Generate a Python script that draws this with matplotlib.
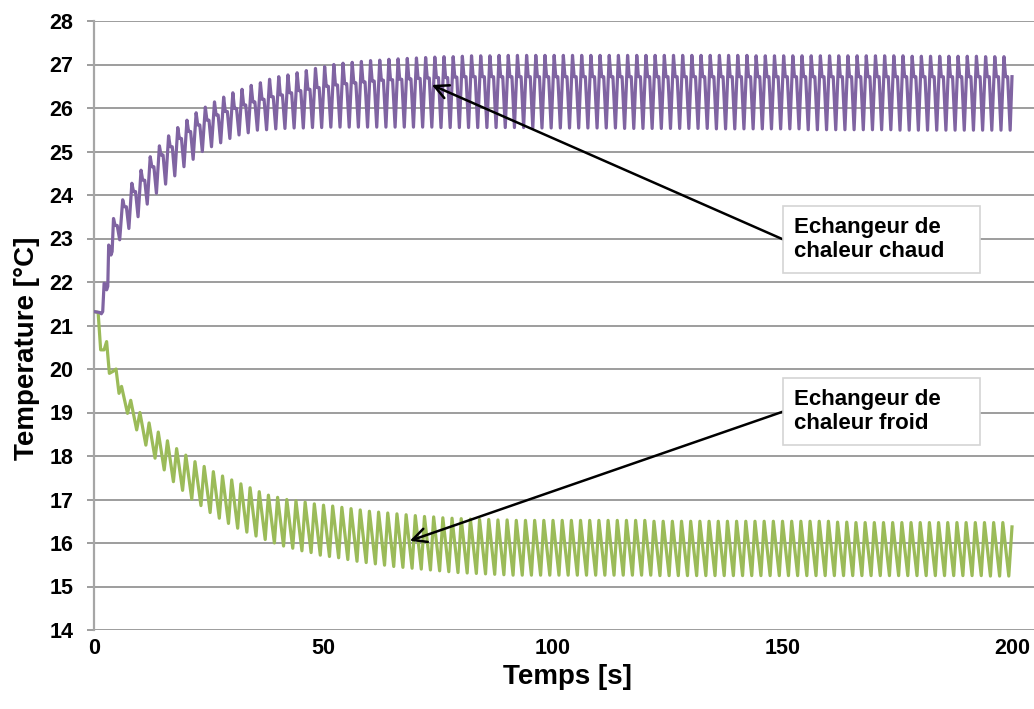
import numpy as np
import matplotlib
matplotlib.use("Agg")
import matplotlib.pyplot as plt
from matplotlib.patches import Rectangle

plt.rcParams['font.family'] = ['Liberation Sans', 'DejaVu Sans']
plt.rcParams['font.weight'] = 'bold'

# ---- data ----
# hot exchanger (purple): start-up steps, then one cycle every 2 s
hot_start_t = [0.0, 1.2, 1.6, 1.9, 2.2, 2.5, 2.75, 3.0, 3.2, 3.45, 3.7, 3.95]
hot_start_T = [21.32, 21.30, 21.27, 21.32, 21.97, 21.95, 21.82, 21.90, 22.85, 22.80, 22.62, 22.70]
hot_cycles = np.arange(2, 100)   # cycle k peaks at ~2k s
hot_peak = [
    23.46, 23.89, 24.27, 24.57, 24.88, 25.13, 25.36, 25.55, 25.72, 25.89,
    26.02, 26.14, 26.25, 26.35, 26.43, 26.52, 26.58, 26.66, 26.72, 26.76,
    26.81, 26.86, 26.91, 26.95, 27.00, 27.03, 27.05, 27.07, 27.09, 27.10,
    27.12, 27.13, 27.14, 27.15, 27.16, 27.17, 27.18, 27.18, 27.19, 27.20,
    27.20, 27.20, 27.21, 27.21, 27.21, 27.21, 27.21, 27.21, 27.21, 27.21,
    27.21, 27.21, 27.21, 27.21, 27.21, 27.21, 27.21, 27.21, 27.21, 27.21,
    27.21, 27.21, 27.21, 27.21, 27.21, 27.21, 27.21, 27.21, 27.21, 27.21,
    27.20, 27.20, 27.20, 27.20, 27.20, 27.20, 27.20, 27.20, 27.20, 27.20,
    27.20, 27.20, 27.20, 27.20, 27.20, 27.20, 27.20, 27.19, 27.19, 27.19,
    27.19, 27.19, 27.19, 27.19, 27.19, 27.18, 27.18, 27.18,
]
hot_shoulder = [
    23.30, 23.73, 24.08, 24.34, 24.65, 24.92, 25.11, 25.30, 25.46, 25.61,
    25.72, 25.84, 25.92, 25.99, 26.07, 26.14, 26.20, 26.26, 26.30, 26.35,
    26.40, 26.43, 26.47, 26.50, 26.53, 26.56, 26.58, 26.60, 26.62, 26.64,
    26.65, 26.66, 26.67, 26.68, 26.69, 26.70, 26.70, 26.71, 26.72, 26.72,
    26.72, 26.72, 26.72, 26.72, 26.72, 26.72, 26.72, 26.72, 26.72, 26.72,
    26.72, 26.72, 26.72, 26.72, 26.72, 26.72, 26.72, 26.72, 26.72, 26.72,
    26.72, 26.72, 26.72, 26.72, 26.72, 26.72, 26.72, 26.72, 26.72, 26.72,
    26.72, 26.72, 26.72, 26.72, 26.72, 26.72, 26.72, 26.72, 26.72, 26.72,
    26.72, 26.72, 26.72, 26.72, 26.72, 26.72, 26.72, 26.72, 26.72, 26.72,
    26.72, 26.72, 26.72, 26.72, 26.72, 26.72, 26.72, 26.72,
]
hot_trough = [
    22.97, 23.23, 23.50, 23.79, 24.04, 24.25, 24.44, 24.65, 24.82, 25.00,
    25.11, 25.20, 25.30, 25.38, 25.43, 25.49, 25.50, 25.52, 25.53, 25.54,
    25.54, 25.55, 25.55, 25.56, 25.56, 25.56, 25.56, 25.56, 25.56, 25.56,
    25.56, 25.56, 25.56, 25.56, 25.56, 25.55, 25.55, 25.55, 25.55, 25.55,
    25.55, 25.55, 25.55, 25.55, 25.55, 25.54, 25.54, 25.54, 25.54, 25.54,
    25.54, 25.54, 25.54, 25.54, 25.54, 25.53, 25.53, 25.53, 25.53, 25.53,
    25.53, 25.53, 25.53, 25.53, 25.53, 25.52, 25.52, 25.52, 25.52, 25.52,
    25.52, 25.52, 25.52, 25.52, 25.52, 25.50, 25.50, 25.50, 25.50, 25.50,
    25.50, 25.50, 25.50, 25.50, 25.50, 25.49, 25.49, 25.49, 25.49, 25.49,
    25.49, 25.49, 25.49, 25.49, 25.49, 25.49, 25.49, 25.49,
]
hot_end_t = [200.0]
hot_end_T = [26.72]

# cold exchanger (green)
cold_start_t = [0.0, 0.9, 1.45, 2.2, 2.75, 3.35, 4.2, 4.8, 5.45]
cold_start_T = [21.32, 21.30, 20.44, 20.44, 20.63, 19.90, 19.95, 20.00, 19.44]
cold_cycles = np.arange(3, 100)
cold_peak = [
    19.60, 19.28, 19.00, 18.76, 18.55, 18.35, 18.17, 18.02, 17.87, 17.76,
    17.64, 17.54, 17.45, 17.36, 17.27, 17.18, 17.10, 17.05, 17.00, 16.97,
    16.94, 16.90, 16.87, 16.85, 16.82, 16.79, 16.76, 16.73, 16.71, 16.69,
    16.67, 16.65, 16.63, 16.61, 16.60, 16.58, 16.57, 16.56, 16.55, 16.54,
    16.54, 16.53, 16.53, 16.52, 16.52, 16.52, 16.52, 16.52, 16.52, 16.52,
    16.52, 16.52, 16.52, 16.52, 16.52, 16.52, 16.52, 16.52, 16.50, 16.50,
    16.50, 16.50, 16.50, 16.50, 16.50, 16.50, 16.50, 16.50, 16.50, 16.50,
    16.50, 16.50, 16.50, 16.50, 16.50, 16.50, 16.50, 16.50, 16.48, 16.48,
    16.47, 16.47, 16.47, 16.47, 16.47, 16.47, 16.47, 16.47, 16.47, 16.47,
    16.47, 16.47, 16.47, 16.47, 16.47, 16.47, 16.47,
]
cold_trough = [
    18.98, 18.60, 18.25, 17.95, 17.68, 17.41, 17.21, 17.01, 16.86, 16.70,
    16.57, 16.45, 16.34, 16.25, 16.16, 16.08, 16.00, 15.93, 15.88, 15.82,
    15.78, 15.72, 15.69, 15.66, 15.62, 15.58, 15.55, 15.52, 15.49, 15.46,
    15.44, 15.42, 15.40, 15.38, 15.36, 15.34, 15.32, 15.31, 15.30, 15.29,
    15.28, 15.27, 15.26, 15.26, 15.26, 15.26, 15.26, 15.26, 15.26, 15.26,
    15.26, 15.26, 15.26, 15.26, 15.26, 15.26, 15.26, 15.26, 15.25, 15.25,
    15.25, 15.25, 15.25, 15.25, 15.25, 15.25, 15.25, 15.25, 15.25, 15.25,
    15.25, 15.25, 15.25, 15.25, 15.25, 15.25, 15.25, 15.25, 15.25, 15.25,
    15.25, 15.25, 15.25, 15.25, 15.25, 15.25, 15.25, 15.25, 15.25, 15.25,
    15.25, 15.25, 15.25, 15.25, 15.24, 15.24, 15.24,
]
cold_end_t = [200.0]
cold_end_T = [16.37]

y_ticks = list(range(14, 29))
x_ticks = [0, 50, 100, 150, 200]

# ---- assemble the wave from the per-cycle readings ----
hot_t, hot_T = list(hot_start_t), list(hot_start_T)
for k, pk, sh, tr in zip(hot_cycles, hot_peak, hot_shoulder, hot_trough):
    p = 2 * k + 0.25
    hot_t += [p, p + 0.35, p + 0.8, p + 1.35]
    hot_T += [pk, sh, sh, tr]
hot_t += hot_end_t
hot_T += hot_end_T

cold_t, cold_T = list(cold_start_t), list(cold_start_T)
for k, pk, tr in zip(cold_cycles, cold_peak, cold_trough):
    p = 2 * k
    cold_t += [p, p + 1.3]
    cold_T += [pk, tr]
cold_t += cold_end_t
cold_T += cold_end_T

# ---- figure ----
fig = plt.figure(figsize=(10.34, 7.09), dpi=100)
ax = fig.add_axes([94 / 1034, 1 - 630 / 709, 940 / 1034, 609 / 709])

ax.plot(cold_t, cold_T, color='#9BBB59', lw=2.3, solid_joinstyle='round', zorder=3)
ax.plot(hot_t, hot_T, color='#8064A2', lw=2.3, solid_joinstyle='round', zorder=3)

ax.set_xlim(0, 940 / 4.59)
ax.set_ylim(14, 28)
ax.set_yticks(y_ticks)
ax.set_xticks(x_ticks)
ax.grid(axis='y', color='#8C8C8C', lw=1.2)
ax.set_axisbelow(True)
for s in ['top', 'right', 'bottom']:
    ax.spines[s].set_visible(False)
ax.spines['left'].set_color('#A6A6A6')
ax.spines['left'].set_linewidth(1.6)
ax.tick_params(axis='y', length=5, width=1.2, color='#8C8C8C', pad=10, labelsize=15.5)
ax.tick_params(axis='x', length=0, pad=6, labelsize=15.5)
for lab in ax.get_xticklabels() + ax.get_yticklabels():
    lab.set_fontweight('bold')

fig.text(27 / 1034, 1 - 348 / 709, 'Temperature [°C]', rotation=90,
         ha='center', va='center', fontsize=20, fontweight='bold')
fig.text(567 / 1034, 1 - 677 / 709, 'Temps [s]', ha='center', va='center',
         fontsize=20, fontweight='bold')

# annotation boxes + arrows
ax.annotate('', xy=(73.6, 26.53), xytext=(150.1, 22.98),
            arrowprops=dict(arrowstyle='->,head_length=0.5,head_width=0.25',
                            color='black', lw=1.8, mutation_scale=20,
                            shrinkA=0, shrinkB=0), zorder=5)
ax.annotate('', xy=(68.8, 16.05), xytext=(150.1, 19.02),
            arrowprops=dict(arrowstyle='->,head_length=0.5,head_width=0.25',
                            color='black', lw=1.8, mutation_scale=20,
                            shrinkA=0, shrinkB=0), zorder=5)

for y0, y1, yc, txt in [(22.21, 23.75, 22.98, 'Echangeur de\nchaleur chaud'),
                        (18.25, 19.79, 19.02, 'Echangeur de\nchaleur froid')]:
    ax.add_patch(Rectangle((150.1, y0), 193.0 - 150.1, y1 - y0, facecolor='white',
                           edgecolor='#D4D4D4', lw=1.2, zorder=6))
    ax.text(152.4, yc, txt, ha='left', va='center', fontsize=16, fontweight='bold',
            linespacing=1.15, zorder=7)

fig.savefig('out.png', dpi=100)
